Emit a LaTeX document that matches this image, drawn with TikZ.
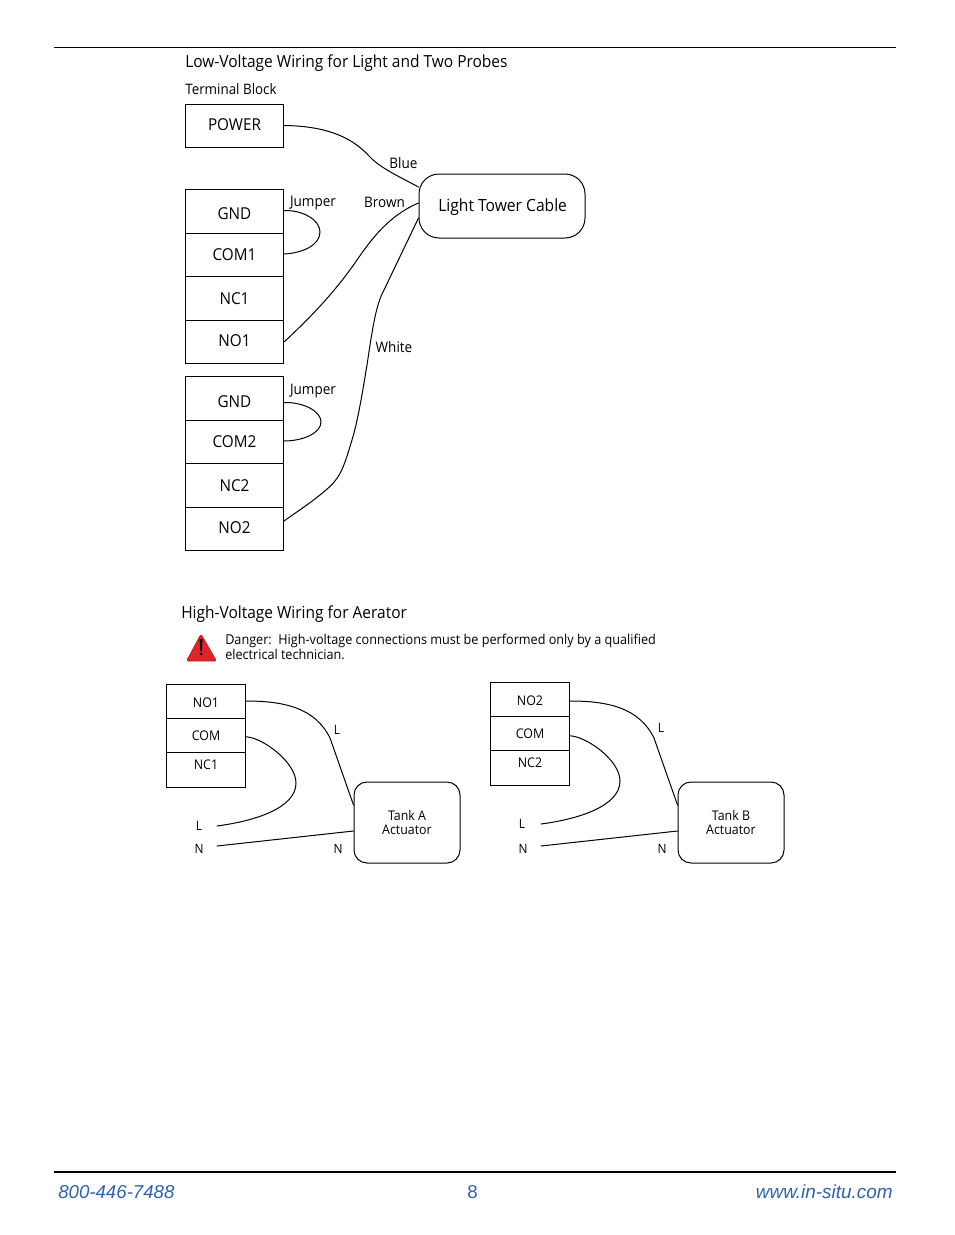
\documentclass[tikz,border=0pt]{standalone}
\usepackage{fontspec}
\setmainfont{Open Sans}[FakeStretch=0.93]
\newfontfamily\footfont{Liberation Sans}
\usetikzlibrary{calc}
\definecolor{footblue}{HTML}{2F62A8}
\definecolor{dangerred}{HTML}{E2232A}
\newcommand{\fs}[1]{\fontsize{#1}{#1}\selectfont}
\newcommand{\up}[2]{\raisebox{#1}[\height][\depth]{#2}}
\tikzset{
  x=0.75pt,y=-0.75pt,
  wire/.style={draw=black,line width=0.75pt,line cap=round},
  cell/.style={draw=black,line width=0.75pt,rectangle,inner sep=0pt,minimum width=73.5pt,font=\fs{12.3}},
  cellsmall/.style={draw=black,line width=0.75pt,rectangle,inner sep=0pt,outer sep=0pt,minimum width=59pt,font=\fs{10}},
  tag/.style={inner sep=0pt,font=\fs{10.9},text=black},
  tagsmall/.style={inner sep=0pt,font=\fs{9.6},text=black},
  heading/.style={inner sep=0pt,anchor=west,font=\fs{12.5}},
  rounded/.style={draw=black,line width=0.75pt,rectangle,inner sep=0pt},
  foot/.style={inner sep=0pt,text=footblue,font=\footfont\fs{14}},
  rule/.style={draw=black}
}
\begin{document}
\begin{tikzpicture}
\useasboundingbox (0,0) rectangle (954,1235);
% rules
\coordinate (tl) at (54,47); \coordinate (tr) at (896,47);
\coordinate (bl) at (54,1172); \coordinate (br) at (896,1172);
\draw[rule,line width=0.6pt] (tl) -- (tr);
\draw[rule,line width=1.5pt] (bl) -- (br);
% headings
\node[heading] (h1) at (185,63.5) {Low-Voltage Wiring for Light and Two Probes};
\node[heading,font=\fs{10.8}] (h2) at (185,89) {Terminal Block};
\node[heading] (h3) at (181,614.5) {High-Voltage Wiring for Aerator};
% upper blocks
\node[cell,minimum height=32.25pt] (power) at (234.5,125.5) {\up{0.8pt}{POWER}};
\node[cell,minimum height=33pt,anchor=north] (gnda) at (234.5,189) {\up{-1.5pt}{GND}};
\node[cell,minimum height=32.25pt,anchor=north] (com1) at (234.5,233) {COM1};
\node[cell,minimum height=33pt,anchor=north] (nc1) at (234.5,276) {NC1};
\node[cell,minimum height=32.25pt,anchor=north] (no1) at (234.5,320) {\up{1pt}{NO1}};
\node[cell,minimum height=33pt,anchor=north] (gndb) at (234.5,376) {\up{-2pt}{GND}};
\node[cell,minimum height=32.25pt,anchor=north] (com2) at (234.5,420) {COM2};
\node[cell,minimum height=33pt,anchor=north] (nc2) at (234.5,463) {NC2};
\node[cell,minimum height=32.25pt,anchor=north] (no2) at (234.5,507) {\up{1pt}{NO2}};
\node[rounded,rounded corners=15pt,minimum width=124.5pt,minimum height=48pt,font=\fs{12.6}] (cable) at (502,206) {\hspace{1pt}\up{-1pt}{Light Tower Cable}};
% wire labels
\node[tag] (lblue) at (403.5,163) {Blue};
\node[tag] (lj1) at (313,203) {Jumper};
\node[tag] (lbrown) at (384.5,202) {Brown};
\node[tag] (lwhite) at (394,347) {White};
\node[tag] (lj2) at (313,391) {Jumper};
% wire ends
\coordinate (cblue) at ($(cable.west)+(0,-19)$);
\coordinate (cbrown) at ($(cable.west)+(0,-3)$);
\coordinate (cwhite) at ($(cable.west)+(0,12)$);
\coordinate (j1a) at ($(gnda.east)+(0,-1)$);
\coordinate (j1b) at ($(com1.east)+(0,-1)$);
\coordinate (j2a) at ($(gndb.east)+(0,4)$);
\coordinate (j2b) at ($(com2.east)+(0,-1)$);
\coordinate (w2) at ($(no2.east)+(0,-8)$);
\draw[wire] (power.east) .. controls (322,126) and (350,135) .. (369,156) .. controls (380,168) and (400,177) .. (cblue);
\draw[wire] (j1a) .. controls (303,210) and (320,220) .. (320,232) .. controls (320,245) and (303,253) .. (j1b);
\draw[wire] (j2a) .. controls (303,402) and (321,411) .. (321,422) .. controls (321,433) and (303,441) .. (j2b);
\draw[wire] (no1.east) .. controls (310,318) and (335,292) .. (357,260) .. controls (372,238) and (390,215) .. (cbrown);
\draw[wire] (cwhite) -- (384,290) .. controls (376,305) and (373,325) .. (367,365) .. controls (362,395) and (358,420) .. (352,440) .. controls (343,470) and (340,478) .. (326,490) .. controls (312,502) and (298,511) .. (w2);
% danger
\coordinate (d1) at (201,634); \coordinate (d2) at (216.5,661); \coordinate (d3) at (186.5,661);
\fill[dangerred,draw=dangerred!80!black,line width=0.5pt,line join=round,rounded corners=1.5pt] (d1) -- (d2) -- (d3) -- cycle;
\fill[black] (199.6,639) -- (202.6,639) -- (201.8,651) -- (200.4,651) -- cycle;
\fill[black] (201.1,654) circle (1.6);
\node[inner sep=0pt,anchor=north west,align=left,font=\fs{10.2}] (dtext) at (225,633.5) {Danger:\ \ High-voltage connections must be performed only by a qualified\\[1pt]electrical technician.};
% lower left
\node[cellsmall,minimum height=25.5pt,anchor=north] (a1) at (206,684) {\up{-1.3pt}{NO1}};
\node[cellsmall,minimum height=25.9pt,anchor=north] (a2) at (a1.south) {\up{-0.4pt}{COM}};
\node[cellsmall,minimum height=26.2pt,anchor=north] (a3) at (a2.south) {\up{3.6pt}{NC1}};
\node[rounded,rounded corners=9.75pt,minimum width=79.5pt,minimum height=60.75pt,align=center,font=\fs{10}] (tanka) at (407,822.5) {Tank A\\[0.5pt]Actuator};
\coordinate (aLtop) at ($(tanka.west)+(0,-17.5)$);
\coordinate (aL) at (217,826);
\coordinate (aN) at (217,846);
\node[tagsmall] (la1) at (337,730) {L};
\node[tagsmall] (la2) at (199,826) {L};
\node[tagsmall] (la3) at (199,849) {N};
\node[tagsmall] (la4) at (338,849) {N};
\draw[wire] (a1.east) .. controls (285,701) and (315,708) .. (330,738) -- (aLtop);
\draw[wire] ($(a2.east)+(0,1.5)$) .. controls (262,737) and (296,762) .. (296,783) .. controls (296,808) and (255,821) .. (aL);
\draw[wire] (aN) -- ($(tanka.west)+(0,8.5)$);
% lower right
\node[cellsmall,minimum height=25.5pt,anchor=north] (b1) at (530,682) {\up{-1.3pt}{NO2}};
\node[cellsmall,minimum height=25.9pt,anchor=north] (b2) at (b1.south) {\up{-0.4pt}{COM}};
\node[cellsmall,minimum height=26.2pt,anchor=north] (b3) at (b2.south) {\up{3.6pt}{NC2}};
\node[rounded,rounded corners=9.75pt,minimum width=79.5pt,minimum height=60.75pt,align=center,font=\fs{10}] (tankb) at (731,822.5) {Tank B\\[0.5pt]Actuator};
\coordinate (bLtop) at ($(tankb.west)+(0,-17.5)$);
\coordinate (bL) at (541,824);
\coordinate (bN) at (541,846);
\node[tagsmall] (lb1) at (661,728) {L};
\node[tagsmall] (lb2) at (522,824) {L};
\node[tagsmall] (lb3) at (523,849) {N};
\node[tagsmall] (lb4) at (662,849) {N};
\draw[wire] ($(b1.east)+(0,2)$) .. controls (609,701) and (639,708) .. (654,738) -- (bLtop);
\draw[wire] ($(b2.east)+(0,2.5)$) .. controls (586,736) and (620,760) .. (620,781) .. controls (620,806) and (579,819) .. (bL);
\draw[wire] (bN) -- ($(tankb.west)+(0,8.5)$);
% footer
\node[foot,anchor=west,font=\footfont\itshape\fs{14}] (phone) at (58,1192) {800-446-7488};
\node[foot] (page) at (472.5,1192) {8};
\node[foot,anchor=east,font=\footfont\itshape\fs{14.2}] (web) at (893,1192) {www.in-situ.com};
\end{tikzpicture}
\end{document}
